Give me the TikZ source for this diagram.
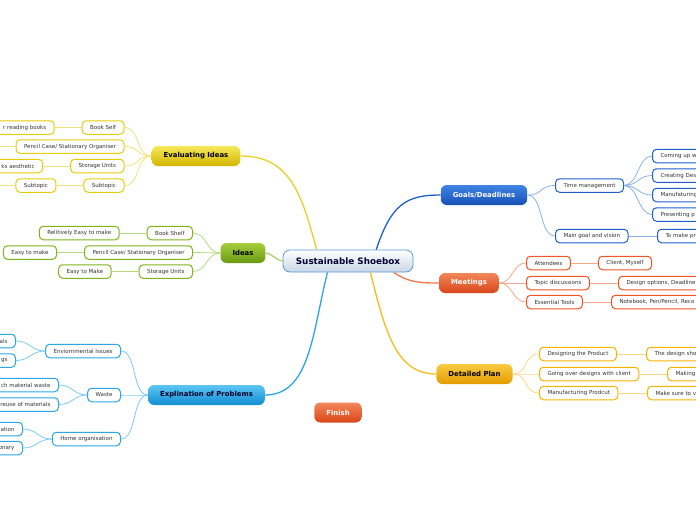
\documentclass[tikz,border=0pt]{standalone}
\usepackage{fontspec}
\setmainfont{DejaVu Sans}
\usetikzlibrary{positioning}

\definecolor{rootbord}{HTML}{5A9AD8}
\definecolor{rootbot}{HTML}{C9D6E3}
\definecolor{yelbord}{HTML}{E6CC0A}
\definecolor{yelline}{HTML}{F0E27A}
\definecolor{yeltop}{HTML}{F6EA5A}
\definecolor{yelbot}{HTML}{D2B400}
\definecolor{grnbord}{HTML}{7DB51B}
\definecolor{grnline}{HTML}{B8D880}
\definecolor{grntop}{HTML}{A6CE3E}
\definecolor{grnbot}{HTML}{6A9A12}
\definecolor{cynbord}{HTML}{2BA6E6}
\definecolor{cynline}{HTML}{7CCBF2}
\definecolor{cyntop}{HTML}{5CC6F4}
\definecolor{cynbot}{HTML}{118ED2}
\definecolor{blubord}{HTML}{1F5FCC}
\definecolor{bluline}{HTML}{8AB0EA}
\definecolor{blutop}{HTML}{3F84E4}
\definecolor{blubot}{HTML}{174FB6}
\definecolor{orgbord}{HTML}{F25522}
\definecolor{orgline}{HTML}{F7A88A}
\definecolor{orgtop}{HTML}{F2875A}
\definecolor{orgbot}{HTML}{D9461A}
\definecolor{ambbord}{HTML}{F7B500}
\definecolor{ambline}{HTML}{FAD787}
\definecolor{ambtop}{HTML}{F9CB45}
\definecolor{ambbot}{HTML}{E39B00}

\begin{document}
\begin{tikzpicture}[
        x=1pt, y=-1pt,
        node distance=27pt,
        leaf/.style={draw, line width=1pt, rounded corners=4pt, fill=white, minimum height=13.5pt, inner xsep=8pt, inner ysep=1pt, font=\fontsize{5.5}{6}\selectfont, text=black!80},
        lcut/.style={leaf, text width=90pt, align=right},
        rcut/.style={leaf, text width=90pt, align=left},
        yleaf/.style={leaf, draw=yelbord}, ycut/.style={lcut, draw=yelbord},
        gleaf/.style={leaf, draw=grnbord},
        cleaf/.style={leaf, draw=cynbord}, ccut/.style={lcut, draw=cynbord},
        bleaf/.style={leaf, draw=blubord}, bcut/.style={rcut, draw=blubord},
        oleaf/.style={leaf, draw=orgbord}, ocut/.style={rcut, draw=orgbord},
        aleaf/.style={leaf, draw=ambbord}, acut/.style={rcut, draw=ambbord},
        mainbox/.style={rounded corners=6pt, minimum height=20pt, inner xsep=12pt, font=\fontsize{6.9}{8}\selectfont\bfseries},
        root/.style={draw=rootbord, line width=0.8pt, rounded corners=7pt, top color=white, bottom color=rootbot, minimum width=130pt, minimum height=22pt, font=\fontsize{8.8}{10}\selectfont\bfseries, text=black!80!blue},
        yline/.style={draw=yelline, line width=0.8pt},
        gline/.style={draw=grnline, line width=0.8pt},
        cline/.style={draw=cynline, line width=0.8pt},
        bline/.style={draw=bluline, line width=0.8pt},
        oline/.style={draw=orgline, line width=0.8pt},
        aline/.style={draw=ambline, line width=0.8pt},
        trunk/.style={line width=1.3pt}
    ]
    \useasboundingbox (0,0) rectangle (696,520);
    \clip (0,0) rectangle (696,520);

    % centre and main topics
    \node[root] (shoebox) at (348,261) {Sustainable Shoebox};
    \node[mainbox, top color=yeltop, bottom color=yelbot] (evaluate) at (196,156) {Evaluating Ideas};
    \node[mainbox, top color=grntop, bottom color=grnbot] (ideas) at (243,253) {Ideas};
    \node[mainbox, top color=cyntop, bottom color=cynbot, text=black!85!blue] (problems) at (206.5,395) {Explination of Problems};
    \node[mainbox, top color=blutop, bottom color=blubot, text=white] (goals) at (484,195) {Goals/Deadlines};
    \node[mainbox, top color=orgtop, bottom color=orgbot, text=white] (meetings) at (469,283) {Meetings};
    \node[mainbox, top color=ambtop, bottom color=ambbot] (plan) at (474.5,374) {Detailed Plan};
    \node[mainbox, top color=orgtop, bottom color=orgbot, text=white] (finish) at (338,412.5) {Finish};

    \draw[trunk, draw=yelbord!90!white] (shoebox.160) .. controls +(-15,-55) and +(50,0) .. (evaluate.east);
    \draw[trunk, draw=grnline!80!grnbord] (shoebox.west) .. controls +(-6,0) and +(6,0) .. (ideas.east);
    \draw[trunk, draw=cynbord] (shoebox.209) .. controls +(-15,60) and +(45,0) .. (problems.east);
    \draw[trunk, draw=blubord] (shoebox.22) .. controls +(15,-45) and +(-35,0) .. (goals.west);
    \draw[trunk, draw=orgbord!80!white] (shoebox.-14) .. controls +(15,10) and +(-20,0) .. (meetings.west);
    \draw[trunk, draw=ambbord!90!white] (shoebox.-27) .. controls +(15,60) and +(-40,0) .. (plan.west);

    % Evaluating Ideas
    \node[yleaf, anchor=east] (bookself) at (124.5,127.5) {Book Self};
    \node[yleaf, anchor=east] (pencil) at (124.5,146.5) {Pencil Case/ Stationary Organiser};
    \node[yleaf, anchor=east] (storage) at (124.5,166) {Storage Units};
    \node[yleaf, anchor=east] (subtopic) at (124.5,185.5) {Subtopic};
    \node[ycut, left=of bookself] (reading) {r reading books};
    \node[ycut, left=of storage] (looks) {ks aesthetic};
    \node[yleaf, left=of subtopic] (subsub) {Subtopic};
    \coordinate (pencilnext) at (-30,146.5);
    \coordinate (subnext) at (-30,185.5);
    \foreach \c in {bookself,pencil,storage,subtopic}
        \draw[yline] (evaluate.west) .. controls +(-16,0) and +(16,0) .. (\c.east);
    \draw[yline] (bookself.west) -- (reading.east);
    \draw[yline] (pencil.west) -- (pencilnext);
    \draw[yline] (storage.west) -- (looks.east);
    \draw[yline] (subtopic.west) -- (subsub.east);
    \draw[yline] (subsub.west) -- (subnext);

    % Ideas
    \node[gleaf, anchor=east] (shelf) at (193,233) {Book Shelf};
    \node[gleaf, anchor=east] (gpencil) at (193,252.5) {Pencil Case/ Stationary Organiser};
    \node[gleaf, anchor=east] (gstorage) at (193,271.5) {Storage Units};
    \node[gleaf, left=of shelf] (easyA) {Relitively Easy to make};
    \node[gleaf, left=of gpencil] (easyB) {Easy to make};
    \node[gleaf, left=of gstorage] (easyC) {Easy to Make};
    \foreach \c/\g in {shelf/easyA,gpencil/easyB,gstorage/easyC} {
        \draw[gline] (ideas.west) .. controls +(-14,0) and +(14,0) .. (\c.east);
        \draw[gline] (\c.west) -- (\g.east);
    }

    % Explination of Problems
    \node[cleaf, anchor=east] (enviro) at (121,351) {Enviornmental Issues};
    \node[cleaf, anchor=east] (waste) at (121,395) {Waste};
    \node[cleaf, anchor=east] (home) at (121,439) {Home organisation};
    \node[ccut, anchor=east] (envA) at (16,341) {als};
    \node[ccut, anchor=east] (envB) at (16,360.5) {gs};
    \node[ccut, anchor=east] (wasteA) at (59,385) {ch material waste};
    \node[ccut, anchor=east] (wasteB) at (59,404.5) {reuse of materials};
    \node[ccut, anchor=east] (homeA) at (23,429) {sation};
    \node[ccut, anchor=east] (homeB) at (23,448) {ionary};
    \foreach \c in {enviro,waste,home}
        \draw[cline] (problems.west) .. controls +(-16,0) and +(16,0) .. (\c.east);
    \foreach \c/\g in {enviro/envA,enviro/envB,waste/wasteA,waste/wasteB,home/homeA,home/homeB}
        \draw[cline] (\c.west) .. controls +(-14,0) and +(14,0) .. (\g.east);

    % Goals/Deadlines
    \node[bleaf, anchor=west] (time) at (555,185.5) {Time management};
    \node[bleaf, anchor=west] (vision) at (555,236) {Main goal and vision};
    \node[bcut, anchor=west] (comeup) at (652,156) {Coming up w};
    \node[bcut, anchor=west] (createdes) at (652,175.5) {Creating Des};
    \node[bcut, anchor=west] (manuf) at (652,195) {Manufaturing};
    \node[bcut, anchor=west] (present) at (652,214.5) {Presenting p};
    \node[bcut, anchor=west] (makepr) at (657,236) {To make pr};
    \foreach \c in {time,vision}
        \draw[bline] (goals.east) .. controls +(16,0) and +(-16,0) .. (\c.west);
    \foreach \g in {comeup,createdes,manuf,present}
        \draw[bline] (time.east) .. controls +(14,0) and +(-14,0) .. (\g.west);
    \draw[bline] (vision.east) -- (makepr.west);

    % Meetings
    \node[oleaf, anchor=west] (attend) at (526,263) {Attendees};
    \node[oleaf, anchor=west] (topics) at (526,283) {Topic discussions};
    \node[oleaf, anchor=west] (tools) at (526,302) {Essential Tools};
    \node[oleaf, right=of attend] (client) {Client, Myself};
    \node[ocut, anchor=west] (options) at (618,283) {Design options, Deadline};
    \node[ocut, anchor=west] (notebook) at (611,302) {Notebook, Pen/Pencil, Reco};
    \foreach \c/\g in {attend/client,topics/options,tools/notebook} {
        \draw[oline] (meetings.east) .. controls +(14,0) and +(-14,0) .. (\c.west);
        \draw[oline] (\c.east) -- (\g.west);
    }

    % Detailed Plan
    \node[aleaf, anchor=west] (designing) at (539,354) {Designing the Product};
    \node[aleaf, anchor=west] (goingover) at (539,374) {Going over designs with client};
    \node[aleaf, anchor=west] (manprod) at (539,393) {Manufacturing Prodcut};
    \node[acut, anchor=west] (designsho) at (646,354) {The design sho};
    \node[acut, anchor=west] (making) at (667,374) {Making};
    \node[acut, anchor=west] (makesure) at (647,393) {Make sure to v};
    \foreach \c/\g in {designing/designsho,goingover/making,manprod/makesure} {
        \draw[aline] (plan.east) .. controls +(16,0) and +(-16,0) .. (\c.west);
        \draw[aline] (\c.east) -- (\g.west);
    }
\end{tikzpicture}
\end{document}
